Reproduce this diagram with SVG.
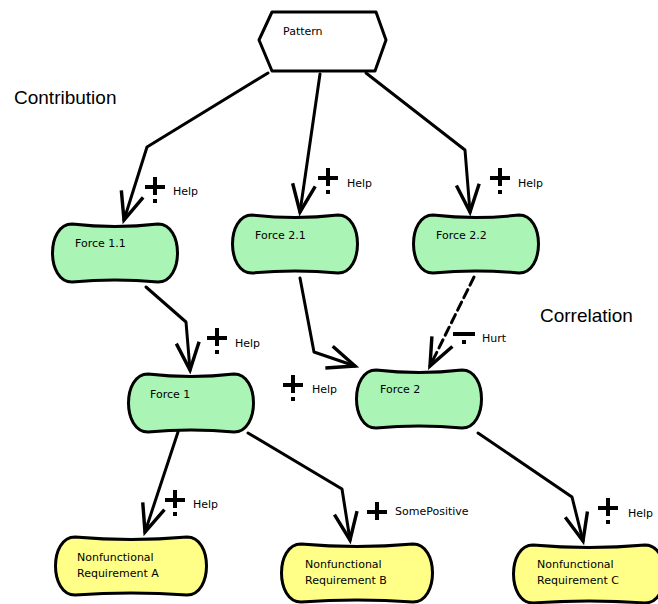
<svg xmlns="http://www.w3.org/2000/svg" width="658" height="604" viewBox="0 0 658 604">
<style>
.node{stroke:#000;stroke-width:3;stroke-linejoin:round}
.g{fill:#aaf5b5}
.y{fill:#ffff88}
.lbl{font-family:"DejaVu Sans",sans-serif;font-size:11px;fill:#000}
.big{font-family:"Liberation Sans",Arial,sans-serif;font-size:19px;fill:#000}
.c{fill:none;stroke:#000;stroke-width:3;stroke-linejoin:round;stroke-linecap:round}
.sym{stroke:#000;stroke-width:4;fill:none}
.dot{fill:#000}
</style>
<defs>
<marker id="arr" markerUnits="userSpaceOnUse" markerWidth="40" markerHeight="40" viewBox="-30 -15 35 30" refX="0" refY="0" orient="auto">
<path d="M -24,-10 L 0,0 L -24,10" fill="none" stroke="#000" stroke-width="3" stroke-linejoin="miter"/>
</marker>
<path id="pill" d="M 20,2 Q 63,7 106,2 C 132,2 132,60 106,60 Q 63,56 20,60 C -6,60 -6,2 20,2 Z"/>
<path id="pillw" d="M 20,2 Q 76,7 132,2 C 158,2 158,60 132,60 Q 76,56 20,60 C -6,60 -6,2 20,2 Z"/>
</defs>
<g id="pattern">
<path class="node" d="M 272,12 L 376,12 L 386,40 L 375,71 L 272,71 L 259,40 Z" fill="#fff"/>
<text class="lbl" x="283" y="35">Pattern</text>
</g>
<g id="force11">
<use href="#pill" class="node g" x="52" y="222"/>
<text class="lbl" x="75" y="247">Force 1.1</text>
</g>
<g id="force21">
<use href="#pill" class="node g" x="232" y="213"/>
<text class="lbl" x="255" y="239">Force 2.1</text>
</g>
<g id="force22">
<use href="#pill" class="node g" x="413" y="213"/>
<text class="lbl" x="436" y="239">Force 2.2</text>
</g>
<g id="force1">
<use href="#pill" class="node g" x="128" y="372"/>
<text class="lbl" x="150" y="398">Force 1</text>
</g>
<g id="force2">
<use href="#pill" class="node g" x="356" y="368"/>
<text class="lbl" x="380" y="393">Force 2</text>
</g>
<g id="nfrA">
<use href="#pillw" class="node y" x="55" y="535"/>
<text class="lbl" x="77" y="561">Nonfunctional</text>
<text class="lbl" x="77" y="577">Requirement A</text>
</g>
<g id="nfrB">
<use href="#pillw" class="node y" x="281" y="542"/>
<text class="lbl" x="305" y="568">Nonfunctional</text>
<text class="lbl" x="305" y="584">Requirement B</text>
</g>
<g id="nfrC">
<use href="#pillw" class="node y" x="513" y="543"/>
<text class="lbl" x="537" y="568">Nonfunctional</text>
<text class="lbl" x="537" y="584">Requirement C</text>
</g>
<g id="connectors">
<polyline class="c" points="268,73 147,147 124,220" marker-end="url(#arr)"/>
<polyline class="c" points="320,74 300,212" marker-end="url(#arr)"/>
<polyline class="c" points="366,73 465,150 470,212" marker-end="url(#arr)"/>
<polyline class="c" points="146,287 186,322 190,370" marker-end="url(#arr)"/>
<polyline class="c" points="300,278 314,352 355,366" marker-end="url(#arr)"/>
<polyline class="c" points="474,277 430,366" stroke-dasharray="9,5" stroke-linecap="butt" marker-end="url(#arr)"/>
<polyline class="c" points="178,432 145,532" marker-end="url(#arr)"/>
<polyline class="c" points="248,433 342,489 350,540" marker-end="url(#arr)"/>
<polyline class="c" points="478,433 572,497 583,541" marker-end="url(#arr)"/>
</g>
<g id="labels">
<path class="sym" d="M145,187 H165 M155,177 V195"/><rect class="dot" x="153" y="199" width="4" height="4"/>
<text class="lbl" x="173" y="195">Help</text>
<path class="sym" d="M318,178 H338 M328,168 V186"/><rect class="dot" x="326" y="190" width="4" height="4"/>
<text class="lbl" x="347" y="187">Help</text>
<path class="sym" d="M490,178 H510 M500,168 V186"/><rect class="dot" x="498" y="190" width="4" height="4"/>
<text class="lbl" x="518" y="187">Help</text>
<path class="sym" d="M207,338 H227 M217,328 V346"/><rect class="dot" x="215" y="350" width="4" height="4"/>
<text class="lbl" x="235" y="347">Help</text>
<path class="sym" d="M283,385 H303 M293,375 V393"/><rect class="dot" x="291" y="397" width="4" height="4"/>
<text class="lbl" x="312" y="393">Help</text>
<path class="sym" d="M453,334 H475"/><rect class="dot" x="462" y="340" width="4" height="4"/>
<text class="lbl" x="482" y="342">Hurt</text>
<path class="sym" d="M165,500 H185 M175,490 V508"/><rect class="dot" x="173" y="512" width="4" height="4"/>
<text class="lbl" x="193" y="508">Help</text>
<path class="sym" d="M367,512 H387 M377,502 V520"/>
<text class="lbl" x="395" y="515">SomePositive</text>
<path class="sym" d="M598,508 H618 M608,498 V516"/><rect class="dot" x="606" y="520" width="4" height="4"/>
<text class="lbl" x="628" y="517">Help</text>
<text class="big" x="14" y="104">Contribution</text>
<text class="big" x="540" y="322">Correlation</text>
</g>
</svg>
